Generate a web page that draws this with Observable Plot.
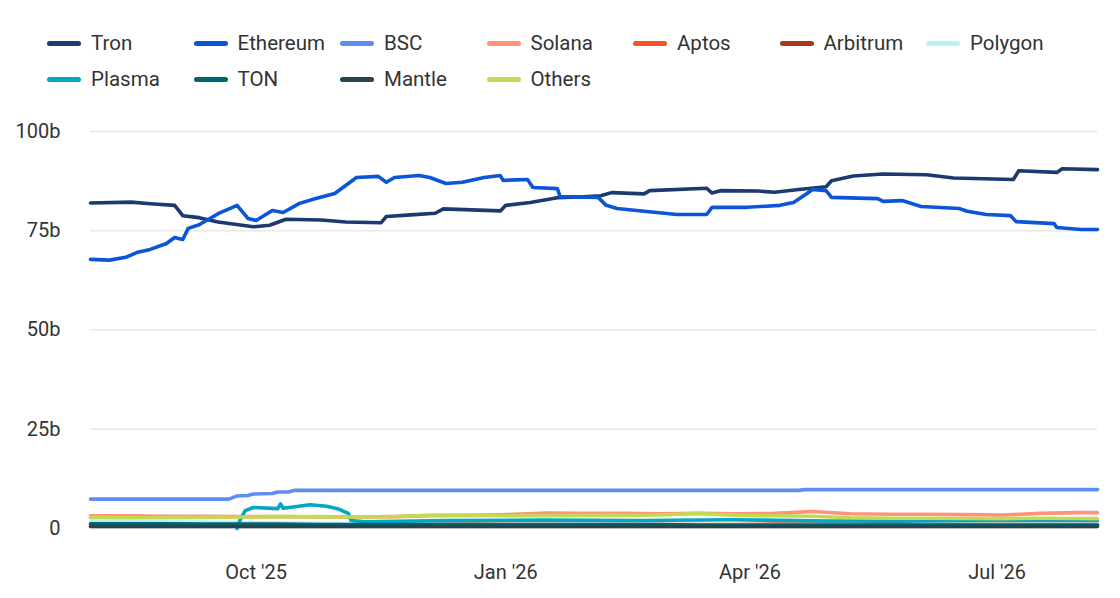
<!DOCTYPE html>
<html>
<head>
<meta charset="utf-8">
<script src="https://cdn.jsdelivr.net/npm/d3@7"></script>
<script src="https://cdn.jsdelivr.net/npm/@observablehq/plot@0.6"></script>
<style>
  html, body { margin: 0; padding: 0; background: #fff; }
  body { width: 1120px; height: 598px; overflow: hidden; font-family: Roboto, "Noto Sans", sans-serif; }
  #legend { position: relative; height: 100px; width: 1120px; }
  .item { position: absolute; height: 24px; display: flex; align-items: center; font-size: 20.5px; color: #333; white-space: nowrap; }
  .sw { width: 34px; height: 5px; border-radius: 3px; margin-right: 10px; }
  #chart svg { display: block; }
</style>
</head>
<body>
<div id="legend"></div>
<div id="chart"></div>
<script>
// ---- Data ----
const seriesNames = ["Tron","Ethereum","BSC","Solana","Aptos","Arbitrum","Polygon","Plasma","TON","Mantle","Others"];
const seriesColors = ["#1b3a70","#0c55d8","#5b8ef0","#ff937a","#f4532b","#a8371c","#bdf0fa","#00a8c6","#00666f","#25454f","#c6d852"];

const tronDates = ["2025-08-01","2025-08-16","2025-08-23","2025-09-01","2025-09-04","2025-09-10","2025-09-17","2025-09-30","2025-10-06","2025-10-12","2025-10-25","2025-11-03","2025-11-16","2025-11-18","2025-11-27","2025-12-06","2025-12-09","2025-12-30","2026-01-01","2026-01-10","2026-01-20","2026-01-28","2026-02-05","2026-02-09","2026-02-21","2026-02-23","2026-03-16","2026-03-18","2026-03-21","2026-04-04","2026-04-10","2026-04-19","2026-04-29","2026-05-01","2026-05-09","2026-05-20","2026-06-05","2026-06-15","2026-07-07","2026-07-09","2026-07-23","2026-07-25","2026-08-07"];
const tronValues = [82.0,82.2,81.8,81.4,78.8,78.3,77.2,76.0,76.4,77.9,77.7,77.2,77.0,78.6,79.0,79.4,80.5,80.0,81.4,82.1,83.3,83.5,83.8,84.6,84.3,85.1,85.7,84.5,85.1,85.0,84.7,85.4,86.1,87.6,88.8,89.3,89.1,88.3,87.9,90.1,89.7,90.6,90.4];

const ethDates = ["2025-08-01","2025-08-08","2025-08-14","2025-08-18","2025-08-23","2025-08-29","2025-09-01","2025-09-04","2025-09-06","2025-09-10","2025-09-17","2025-09-24","2025-09-28","2025-10-01","2025-10-07","2025-10-11","2025-10-17","2025-10-23","2025-10-30","2025-11-03","2025-11-07","2025-11-15","2025-11-18","2025-11-21","2025-11-30","2025-12-04","2025-12-10","2025-12-16","2025-12-24","2025-12-30","2025-12-31","2026-01-09","2026-01-11","2026-01-20","2026-01-21","2026-02-04","2026-02-07","2026-02-11","2026-02-21","2026-03-05","2026-03-16","2026-03-18","2026-03-31","2026-04-12","2026-04-17","2026-04-22","2026-04-24","2026-04-29","2026-05-01","2026-05-18","2026-05-20","2026-05-27","2026-06-03","2026-06-17","2026-06-20","2026-06-27","2026-07-06","2026-07-08","2026-07-22","2026-07-23","2026-08-01","2026-08-07"];
const ethValues = [67.8,67.6,68.3,69.5,70.3,71.8,73.3,72.8,75.6,76.5,79.3,81.4,78.1,77.6,80.1,79.6,81.9,83.1,84.4,86.4,88.4,88.7,87.2,88.4,88.9,88.4,86.9,87.2,88.4,88.9,87.7,87.9,85.9,85.6,83.6,83.4,81.4,80.6,79.9,79.1,79.1,80.9,80.9,81.4,82.1,84.4,85.4,85.1,83.4,83.1,82.4,82.6,81.1,80.6,79.9,79.1,78.8,77.3,76.8,75.8,75.3,75.3];

const bscDates = ["2025-08-01","2025-09-21","2025-09-24","2025-09-28","2025-09-30","2025-10-07","2025-10-09","2025-10-13","2025-10-15","2026-04-19","2026-04-21","2026-08-07"];
const bscValues = [7.4,7.4,8.2,8.3,8.7,8.8,9.2,9.2,9.6,9.6,9.8,9.8];

const plasmaDates = ["2025-09-24","2025-09-25","2025-09-27","2025-09-30","2025-10-09","2025-10-10","2025-10-11","2025-10-21","2025-10-27","2025-10-31","2025-11-04","2025-11-05","2025-11-10","2025-12-10","2026-01-15","2026-02-20","2026-03-25","2026-04-30","2026-06-01","2026-07-01","2026-08-07"];
const plasmaValues = [0.0,2.0,4.5,5.3,5.0,6.2,5.1,6.0,5.6,5.0,3.8,2.0,1.7,2.0,2.1,2.0,2.2,1.9,1.9,2.0,2.0];

const smallDates = ["2025-08-01","2025-08-15","2025-08-29","2025-09-12","2025-09-26","2025-10-10","2025-10-24","2025-11-07","2025-11-21","2025-12-05","2025-12-19","2026-01-02","2026-01-16","2026-01-30","2026-02-13","2026-02-27","2026-03-13","2026-03-27","2026-04-10","2026-04-24","2026-05-08","2026-05-22","2026-06-05","2026-06-19","2026-07-03","2026-07-17","2026-07-31","2026-08-07"];
const solanaValues   = [3.2,3.2,3.1,3.1,3.0,3.0,2.9,2.9,3.0,3.2,3.3,3.5,3.9,3.8,3.8,3.7,3.8,3.7,3.8,4.3,3.7,3.6,3.6,3.5,3.4,3.8,4.0,4.0];
const othersValues   = [2.8,2.7,2.7,2.8,2.9,3.0,3.0,2.9,3.0,3.4,3.3,3.2,3.2,3.3,3.3,3.4,3.8,3.3,3.2,3.1,2.7,2.6,2.6,2.5,2.5,2.6,2.5,2.5];
const polygonValues  = [1.8,1.8,1.7,1.6,1.5,1.4,1.3,1.2,1.1,1.1,1.0,1.0,1.0,1.0,0.9,0.9,0.9,0.9,0.9,0.9,0.8,0.8,0.8,0.8,0.8,0.8,0.8,0.8];
const aptosValues    = [1.0,1.0,1.0,1.0,1.0,1.1,1.1,1.2,1.1,1.1,1.1,1.0,1.0,1.0,1.0,1.0,1.0,1.0,1.1,1.1,1.1,1.0,1.0,1.0,1.0,1.0,1.0,1.0];
const arbitrumValues = [0.6,0.6,0.6,0.6,0.7,0.7,0.7,0.7,0.7,0.7,0.7,0.7,0.7,0.7,0.7,0.7,0.7,0.7,0.7,0.8,0.9,1.4,0.8,0.7,0.7,0.7,0.7,0.7];
const tonValues      = [1.2,1.2,1.2,1.1,1.1,1.1,1.0,1.0,1.0,1.0,1.0,1.0,1.0,1.0,1.0,1.0,0.9,0.9,0.9,0.9,0.9,0.9,0.9,0.9,0.9,0.9,0.9,0.9];
const mantleValues   = [0.5,0.5,0.5,0.5,0.5,0.5,0.5,0.5,0.5,0.5,0.5,0.5,0.5,0.5,0.5,0.5,0.5,0.5,0.5,0.5,0.5,0.5,0.5,0.5,0.5,0.5,0.5,0.5];

const yTicks = [0,25,50,75,100];
const yTickLabels = ["0","25b","50b","75b","100b"];
const xTickDates = ["2025-10-01","2026-01-01","2026-04-01","2026-07-01"];
const xTickLabels = ["Oct '25","Jan '26","Apr '26","Jul '26"];
const xDomain = ["2025-08-01","2026-08-07"];

// ---- Build table ----
const rows = [];
function add(name, dates, values) {
  dates.forEach((d, i) => rows.push({series: name, date: new Date(d + "T00:00:00Z"), value: values[i]}));
}
add("Tron", tronDates, tronValues);
add("Ethereum", ethDates, ethValues);
add("BSC", bscDates, bscValues);
add("Solana", smallDates, solanaValues);
add("Aptos", smallDates, aptosValues);
add("Arbitrum", smallDates, arbitrumValues);
add("Polygon", smallDates, polygonValues);
add("Plasma", plasmaDates, plasmaValues);
add("TON", smallDates, tonValues);
add("Mantle", smallDates, mantleValues);
add("Others", smallDates, othersValues);

// ---- Legend ----
const legend = document.getElementById("legend");
seriesNames.forEach((name, i) => {
  const col = i % 7, row = Math.floor(i / 7);
  const el = document.createElement("div");
  el.className = "item";
  el.style.left = (47 + col * 146.5) + "px";
  el.style.top = (31 + row * 36) + "px";
  el.innerHTML = `<span class="sw" style="background:${seriesColors[i]}"></span><span>${name}</span>`;
  legend.appendChild(el);
});

// ---- Chart ----
const xTicks = xTickDates.map(d => new Date(d + "T00:00:00Z"));
const chart = Plot.plot({
  width: 1120,
  height: 498,
  marginTop: 31,
  marginBottom: 70,
  marginLeft: 90,
  marginRight: 23,
  style: {fontFamily: "Roboto, 'Noto Sans', sans-serif", fontSize: "20px", color: "#333", background: "#fff"},
  x: {type: "utc", domain: xDomain.map(d => new Date(d + "T00:00:00Z"))},
  y: {domain: [0, 100]},
  color: {domain: seriesNames, range: seriesColors},
  marks: [
    Plot.gridY(yTicks, {stroke: "#e8e8e8", strokeOpacity: 1, strokeWidth: 1.5}),
    Plot.axisY(yTicks, {tickSize: 0, tickPadding: 30, label: null, fill: "#333",
      tickFormat: d => yTickLabels[yTicks.indexOf(d)]}),
    Plot.axisX(xTicks, {tickSize: 0, tickPadding: 36, label: null, fill: "#333",
      tickFormat: d => xTickLabels[xTicks.findIndex(t => +t === +d)]}),
    Plot.line(rows, {x: "date", y: "value", z: "series", stroke: "series",
      strokeWidth: 3.6, strokeLinejoin: "round", strokeLinecap: "round", curve: "linear"})
  ]
});
document.getElementById("chart").appendChild(chart);
</script>
</body>
</html>
